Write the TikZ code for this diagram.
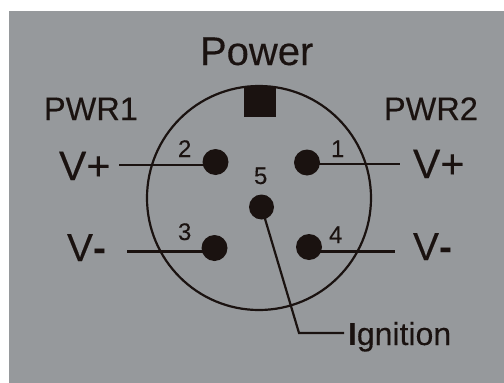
\documentclass[tikz,border=0pt]{standalone}
\usepackage{fontspec}
\setmainfont{Liberation Sans}[UprightFeatures={FakeBold=0.25}]
\definecolor{panel}{HTML}{96999C}
\definecolor{ink}{HTML}{1A1210}
\tikzset{
  lbl/.style={anchor=base west,inner sep=0pt,outer sep=0pt,text=ink},
  pin/.style={circle,fill=ink,draw=none,inner sep=0pt,minimum size=#1},
  wire/.style={draw=ink,line width=2.2pt},
}
\newcommand{\fsz}[1]{\fontsize{#1pt}{#1pt}\selectfont}
\begin{document}
\begin{tikzpicture}[x=1pt,y=-1pt]
\useasboundingbox (0,0) rectangle (504,383);
\fill[white] (0,0) rectangle (504,383);
\fill[panel] (9,11) rectangle (504,383);
\node[circle,draw=ink,line width=2.2pt,minimum size=224pt,inner sep=0pt] (body) at (259,198) {};
\node[fill=ink,minimum width=32pt,minimum height=30pt,inner sep=0pt] (key) at (260,102) {};
\node[pin=26pt] (p2) at (215.5,162) {};
\node[pin=26pt] (p1) at (307,162.5) {};
\node[pin=26pt] (p3) at (214.5,248) {};
\node[pin=26pt] (p4) at (309,247) {};
\node[pin=25pt] (p5) at (261.5,207) {};
\coordinate (w2) at (119,165);
\coordinate (w1) at (400,164);
\coordinate (w3) at (127,251.5);
\coordinate (w4) at (395,251.5);
\coordinate (bend) at (299,333);
\coordinate (w5) at (344,333);
\draw[wire] (w2) -- (p2.center |- w2);
\draw[wire] (p1.center |- w1) -- (w1);
\draw[wire] (w3) -- (p3.center |- w3);
\draw[wire] (p4.center |- w4) -- (w4);
\draw[wire,line join=miter] (p5.center) -- (bend) -- (w5);
\node[lbl,font=\fsz{40}] (power) at (200,65) {Power};
\node[lbl,font=\fsz{32.5}] (pwr1) at (44,120) {PWR1};
\node[lbl,font=\fsz{32.5}] (pwr2) at (384,120) {PWR2};
\node[lbl,font=\fsz{41}] (vp1) at (59,180) {V+};
\node[lbl,font=\fsz{41}] (vp2) at (413,178) {V+};
\node[lbl,font=\fsz{39}] (vm1) at (67,261) {V\textbf{-}};
\node[lbl,font=\fsz{39}] (vm2) at (413,260) {V\textbf{-}};
\node[lbl,font=\fsz{24}] (n2) at (178,157) {2};
\node[lbl,font=\fsz{24}] (n1) at (331,157) {1};
\node[lbl,font=\fsz{24}] (n3) at (178,240) {3};
\node[lbl,font=\fsz{24}] (n4) at (329,243) {4};
\node[lbl,font=\fsz{24}] (n5) at (254,184) {5};
\node[lbl,font=\fsz{32}] (ign) at (348,345) {\textbf{I}gnition};
\end{tikzpicture}
\end{document}
